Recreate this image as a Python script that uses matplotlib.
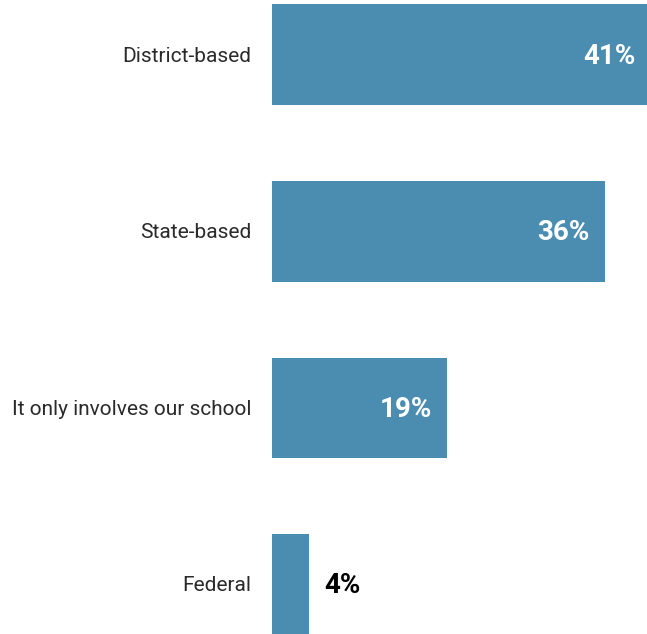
import matplotlib
matplotlib.use("Agg")
import matplotlib.pyplot as plt

categories = ["District-based", "State-based", "It only involves our school", "Federal"]
values = [41, 36, 19, 4]
value_labels = ["41%", "36%", "19%", "4%"]

bar_color = "#4a8db0"

fig = plt.figure(figsize=(6.47, 6.34), dpi=100)
ax = fig.add_axes([272 / 647, 0, 375 / 647, 1])

ypos = list(range(len(categories)))
ax.barh(ypos, values, height=0.57, color=bar_color)
ax.set_xlim(0, 40.6)
ax.set_ylim(3.28, -0.31)

for s in ax.spines.values():
    s.set_visible(False)
ax.set_xticks([])
ax.set_yticks([])

for y, cat, v, lab in zip(ypos, categories, values, value_labels):
    ax.annotate(cat, xy=(0, y), xytext=(-15, -1), textcoords="offset points",
                ha="right", va="center", fontsize=15, family="Roboto",
                fontweight="normal", color="#2a2a2a", annotation_clip=False)
    if v > 10:
        ax.annotate(lab, xy=(v, y), xytext=(-11, -1), textcoords="offset points",
                    ha="right", va="center", fontsize=20, family="Roboto",
                    fontweight="bold", color="white", annotation_clip=False)
    else:
        ax.annotate(lab, xy=(v, y), xytext=(11, -1), textcoords="offset points",
                    ha="left", va="center", fontsize=20, family="Roboto",
                    fontweight="bold", color="black", annotation_clip=False)

fig.savefig("out.png", dpi=100)
